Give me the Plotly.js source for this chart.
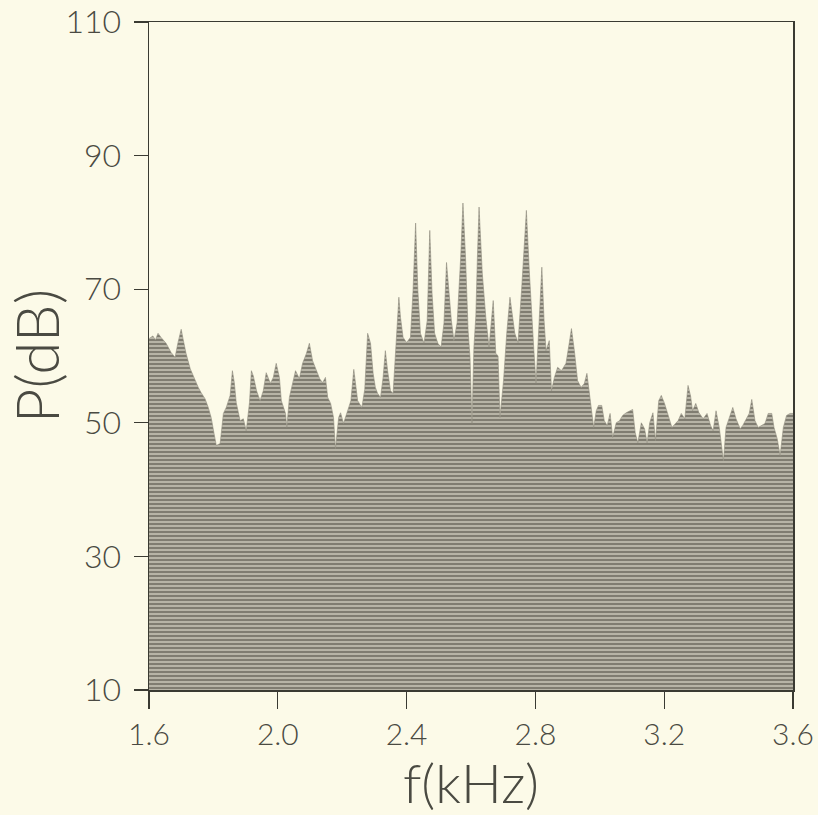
<!DOCTYPE html>
<html>
<head>
<meta charset="utf-8">
<script src="https://cdn.plot.ly/plotly-3.0.1.min.js"></script>
<style>
  html, body { margin: 0; padding: 0; background: #fcfae8; }
  #chart { width: 818px; height: 815px; }
</style>
</head>
<body>
<div id="chart"></div>
<script>
// Frequency (kHz)
const freq = [
  1.600,1.612,1.620,1.628,1.637,1.646,1.653,1.669,1.681,1.690,1.700,1.706,1.715,1.728,1.743,1.753,1.762,1.774,1.784,1.793,
  1.802,1.809,1.821,1.831,1.840,1.852,1.859,1.865,1.871,1.883,1.893,1.902,1.912,1.918,1.924,1.934,1.945,1.955,1.964,1.977,
  1.986,1.995,2.005,2.011,2.024,2.028,2.036,2.046,2.055,2.067,2.077,2.089,2.098,2.108,2.120,2.130,2.139,2.148,2.155,2.164,
  2.173,2.179,2.189,2.195,2.204,2.214,2.227,2.236,2.248,2.261,2.270,2.279,2.288,2.296,2.303,2.310,2.319,2.327,2.334,2.341,
  2.350,2.358,2.365,2.370,2.376,2.381,2.389,2.400,2.412,2.420,2.428,2.435,2.443,2.454,2.464,2.472,2.479,2.487,2.497,2.507,
  2.516,2.524,2.531,2.539,2.547,2.557,2.568,2.575,2.583,2.591,2.597,2.603,2.609,2.615,2.620,2.625,2.635,2.646,2.656,2.669,
  2.677,2.684,2.690,2.701,2.711,2.721,2.736,2.746,2.757,2.765,2.772,2.781,2.788,2.795,2.802,2.812,2.820,2.827,2.833,2.843,
  2.850,2.859,2.869,2.881,2.895,2.905,2.912,2.921,2.931,2.942,2.952,2.960,2.968,2.975,2.981,2.989,2.996,3.006,3.014,3.023,
  3.032,3.040,3.051,3.061,3.071,3.082,3.092,3.102,3.110,3.118,3.129,3.139,3.147,3.155,3.165,3.173,3.183,3.191,3.201,3.212,
  3.224,3.235,3.243,3.253,3.264,3.274,3.282,3.288,3.298,3.308,3.321,3.333,3.344,3.352,3.361,3.371,3.384,3.392,3.402,3.413,
  3.423,3.436,3.444,3.454,3.464,3.472,3.482,3.492,3.503,3.513,3.523,3.534,3.541,3.551,3.560,3.570,3.580,3.591,3.600
];
// Power (dB)
const power = [
  62.6,63.0,62.4,63.4,62.8,62.3,61.9,60.5,59.8,62.0,64.0,62.5,60.4,58.1,56.3,55.3,54.5,53.6,52.3,50.8,
  48.4,46.6,46.9,51.4,52.3,54.1,57.8,56.0,53.0,50.3,50.6,48.8,53.0,57.8,57.0,54.8,53.3,54.8,57.5,55.9,
  56.8,58.9,56.8,53.3,51.4,49.3,53.8,56.0,57.8,56.6,58.9,60.4,61.9,59.3,57.8,56.6,56.0,56.8,53.8,52.9,
  50.8,46.1,50.8,51.5,49.9,51.4,53.3,58.0,53.3,52.3,55.0,63.4,61.9,57.4,55.3,54.4,53.8,56.8,60.8,57.8,
  54.8,54.4,60.5,64.9,68.8,65.8,62.8,62.0,62.8,69.8,79.9,69.8,63.4,61.9,65.3,78.8,69.4,63.4,61.9,61.3,
  64.9,74.0,69.4,65.3,62.3,65.0,74.8,82.9,74.8,63.8,59.8,49.9,61.3,66.0,75.0,82.3,72.4,65.8,61.3,68.3,
  60.4,60.0,50.8,56.3,63.4,68.8,63.4,62.0,69.8,77.3,81.8,72.8,66.4,61.0,55.9,64.9,73.3,65.3,60.8,62.3,
  54.8,56.8,58.3,57.8,58.9,61.9,64.1,60.8,56.3,55.3,55.9,57.4,54.4,51.8,49.3,51.8,52.6,52.6,50.3,49.6,
  51.4,47.8,50.0,50.3,51.1,51.5,51.8,52.0,48.5,47.0,50.0,49.1,47.0,50.0,51.5,47.3,53.3,54.1,52.9,51.1,
  49.3,49.9,50.3,51.4,50.6,55.6,54.0,51.8,52.9,51.5,50.6,51.4,49.6,48.8,51.8,49.3,44.3,49.3,50.8,52.3,
  50.6,49.1,49.6,50.6,51.4,53.5,50.3,49.3,49.6,49.9,51.4,51.4,49.3,47.6,45.1,49.3,51.1,51.4,51.4
];
const xTicks = [1.6, 2.0, 2.4, 2.8, 3.2, 3.6];
const xTickText = ['1.6', '2.0', '2.4', '2.8', '3.2', '3.6'];
const yTicks = [10, 30, 50, 70, 90, 110];
const yTickText = ['10', '30', '50', '70', '90', '110'];

const FONT = 'Lato, "DejaVu Sans", sans-serif';
const BG = '#fcfae8';

const trace = {
  type: 'scatter',
  mode: 'lines',
  x: freq,
  y: power,
  line: { color: '#8f8b7e', width: 0.6, shape: 'linear' },
  fill: 'tozeroy',
  fillcolor: '#9c998c',
  fillpattern: { shape: '-', fgcolor: '#7a776b', bgcolor: '#b7b4a6', size: 4, solidity: 0.45 },
  hoverinfo: 'skip',
  showlegend: false
};

const layout = {
  width: 818,
  height: 815,
  paper_bgcolor: BG,
  plot_bgcolor: BG,
  margin: { l: 149, r: 25, t: 22, b: 125 },
  showlegend: false,
  xaxis: {
    range: [1.6, 3.6],
    tickmode: 'array',
    tickvals: xTicks,
    ticktext: xTickText,
    ticks: 'outside',
    ticklen: 17,
    tickwidth: 1.3,
    tickcolor: '#3a3a32',
    showline: true,
    linecolor: '#3a3a32',
    linewidth: 1.5,
    mirror: true,
    showgrid: false,
    zeroline: false,
    tickfont: { family: FONT, size: 30, color: '#4a4a42', weight: 300 },
    title: { text: 'f(kHz)', font: { family: FONT, size: 54, color: '#4a4a42', weight: 300 }, standoff: 10 }
  },
  yaxis: {
    range: [10, 110],
    tickmode: 'array',
    tickvals: yTicks,
    ticktext: yTickText,
    ticks: 'outside',
    ticklen: 14,
    tickwidth: 1.3,
    tickcolor: '#3a3a32',
    showline: true,
    linecolor: '#3a3a32',
    linewidth: 1.5,
    mirror: true,
    showgrid: false,
    zeroline: false,
    ticklabelstandoff: 6,
    tickfont: { family: FONT, size: 32, color: '#4a4a42', weight: 300 },
    title: { text: 'P(dB)', font: { family: FONT, size: 60, color: '#4a4a42', weight: 300 }, standoff: 10 }
  }
};

Plotly.newPlot('chart', [trace], layout, { staticPlot: true, displayModeBar: false });
</script>
</body>
</html>
